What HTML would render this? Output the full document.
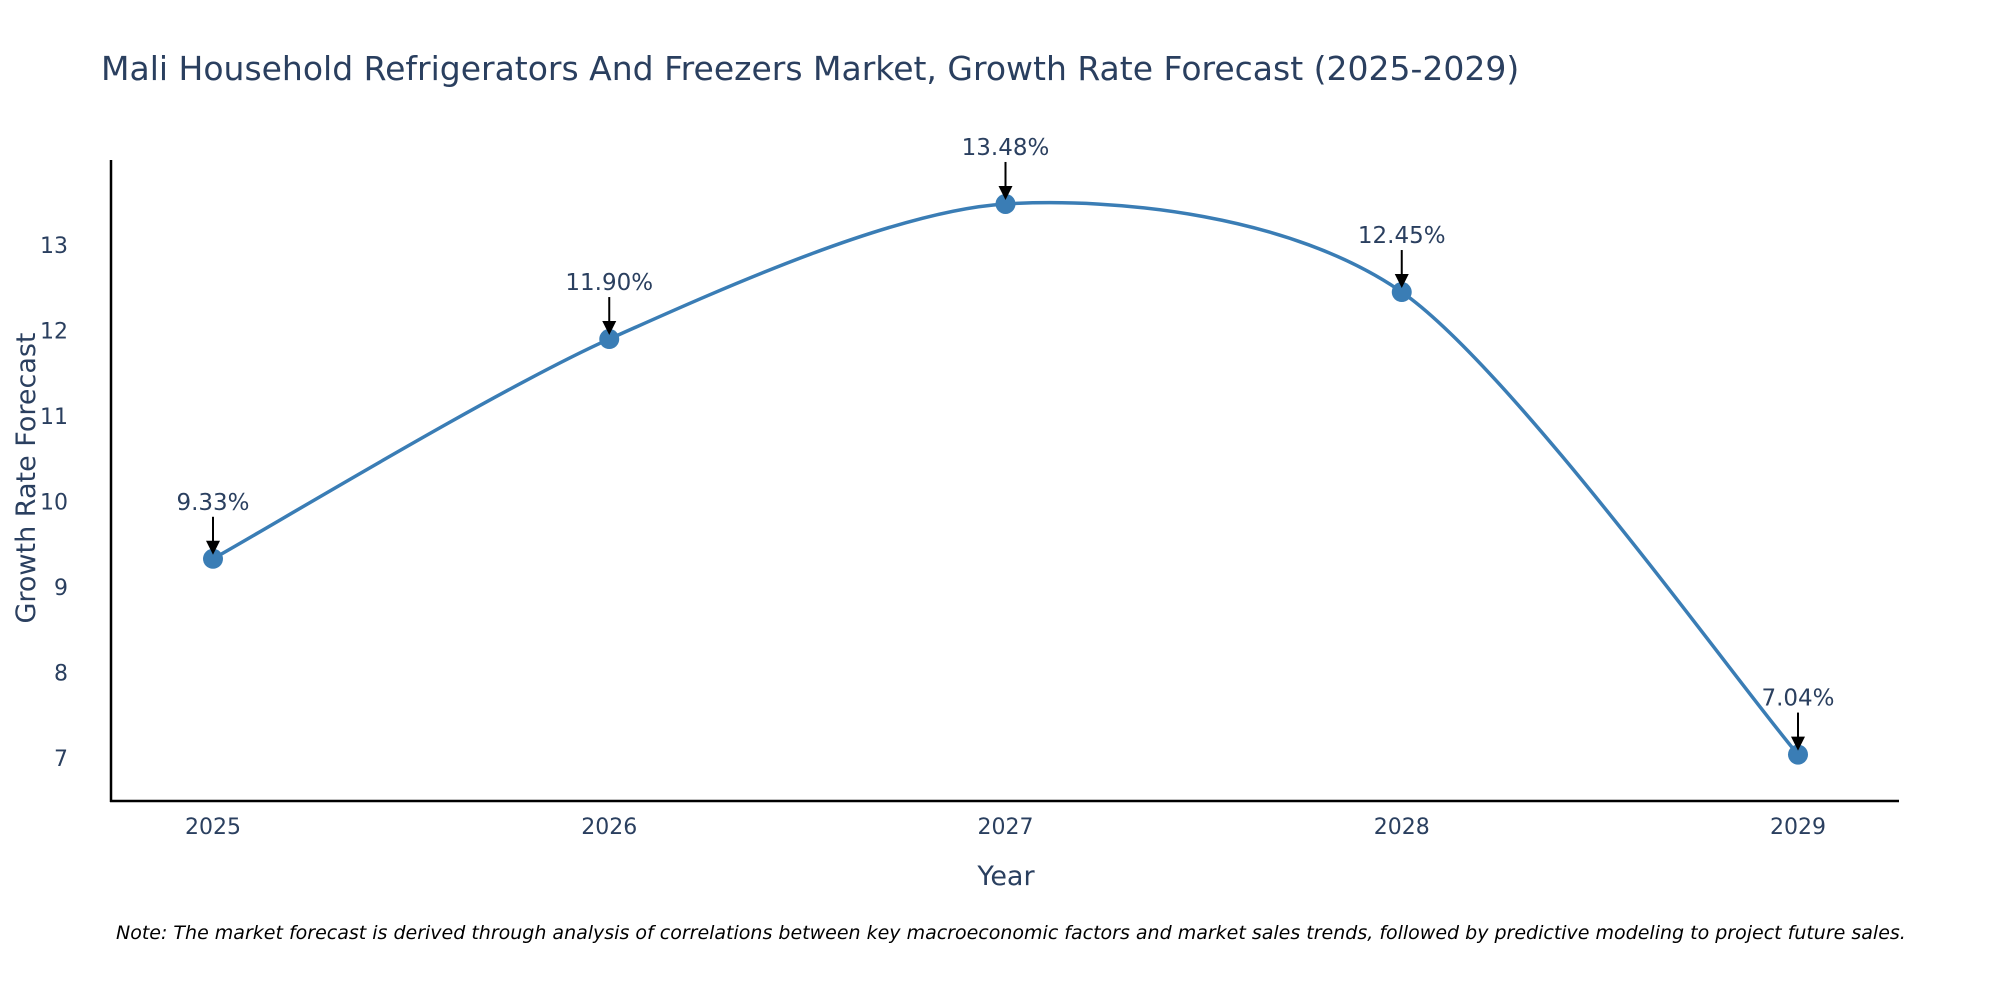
<!DOCTYPE html>
<html><head><meta charset="utf-8"><style>
body{margin:0;background:#fff;}
svg text{font-family:"DejaVu Sans","Liberation Sans",sans-serif;fill:#2a3f5f;}
</style></head><body>
<svg id="chart" width="2000" height="1000" viewBox="0 0 2000 1000" xmlns="http://www.w3.org/2000/svg">
<text x="101" y="80" font-size="33">Mali Household Refrigerators And Freezers Market, Growth Rate Forecast (2025-2029)</text>
<g id="plot"></g>
<line x1="111" y1="160" x2="111" y2="802" stroke="#000" stroke-width="2.5"/>
<line x1="110" y1="801" x2="1899" y2="801" stroke="#000" stroke-width="2.5"/>
<text x="1006" y="885" font-size="27" text-anchor="middle">Year</text>
<text transform="translate(35,478) rotate(-90)" font-size="27" text-anchor="middle">Growth Rate Forecast</text>
<text x="116" y="939" font-size="19" font-style="italic" style="fill:#000">Note: The market forecast is derived through analysis of correlations between key macroeconomic factors and market sales trends, followed by predictive modeling to project future sales.</text>
</svg>
<script>
const years = ["2025","2026","2027","2028","2029"];
const values = [9.33, 11.90, 13.48, 12.45, 7.04];
const labels = ["9.33%","11.90%","13.48%","12.45%","7.04%"];
const yTicks = [7,8,9,10,11,12,13];

const NS="http://www.w3.org/2000/svg";
const g=document.getElementById('plot');
const x0=213,x1=1798;
function xs(i){return x0+(x1-x0)*i/(years.length-1);}
function ys(v){return 758-(v-7)*85.5;}
function mk(t,a){const e=document.createElementNS(NS,t);for(const k in a)e.setAttribute(k,a[k]);g.appendChild(e);return e;}

yTicks.forEach(v=>{
  const t=mk('text',{x:68,y:ys(v)+8,'font-size':22,'text-anchor':'end'});
  
  
  t.textContent=v;
});
years.forEach((y,i)=>{
  const t=mk('text',{x:xs(i),y:834,'font-size':22,'text-anchor':'middle'});
  
  
  t.textContent=y;
});

const P=values.map((v,i)=>[xs(i),ys(v)]);
let d='M'+P[0][0]+','+P[0][1];
const s=0.14;
for(let i=0;i<P.length-1;i++){
  const p0=P[Math.max(0,i-1)],p1=P[i],p2=P[i+1],p3=P[Math.min(P.length-1,i+2)];
  const c1=[p1[0]+(p2[0]-p0[0])*s,p1[1]+(p2[1]-p0[1])*s];
  const c2=[p2[0]-(p3[0]-p1[0])*s,p2[1]-(p3[1]-p1[1])*s];
  d+=` C${c1[0]},${c1[1]} ${c2[0]},${c2[1]} ${p2[0]},${p2[1]}`;
}
const line=mk('path',{d:d,fill:'none',stroke:'#3a7db5','stroke-width':3.5});



P.forEach((p,i)=>{
  const c=mk('circle',{cx:p[0],cy:p[1],r:10,fill:'#3a7db5'});
  
  
  const l=mk('line',{x1:p[0],y1:p[1]-42,x2:p[0],y2:p[1]-14,stroke:'#000','stroke-width':2});
  
  
  const h=mk('polygon',{points:`${p[0]-7},${p[1]-18} ${p[0]+7},${p[1]-18} ${p[0]},${p[1]-4}`,fill:'#000'});
  
  
  const t=mk('text',{x:p[0],y:p[1]-49,'font-size':23,'text-anchor':'middle'});
  
  
  t.textContent=labels[i];
});
</script>
</body></html>
